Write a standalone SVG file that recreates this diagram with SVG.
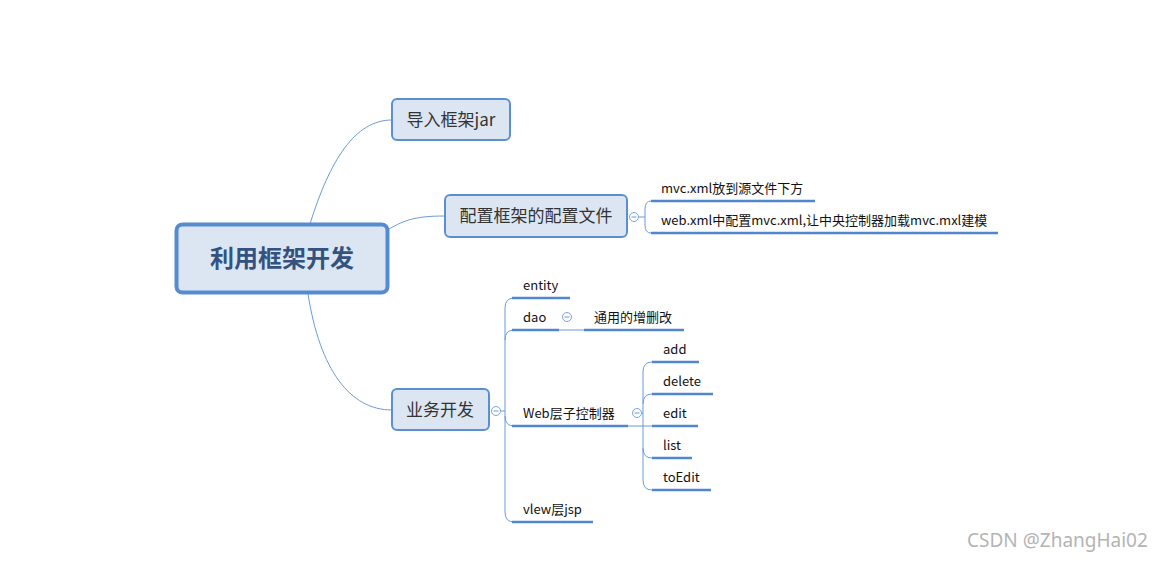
<svg xmlns="http://www.w3.org/2000/svg" width="1161" height="561" viewBox="0 0 1161 561">
<style>
.bg{fill:#ffffff}
.box{fill:#dce6f2;stroke:#5b8fd2;stroke-width:2}
.root{fill:#dce6f2;stroke:#558bd1;stroke-width:4}
.bt{font-family:"Noto Sans CJK SC","Microsoft YaHei",sans-serif;font-size:17px;fill:#333333;text-anchor:middle}
.rt{font-family:"Noto Sans CJK SC","Microsoft YaHei",sans-serif;font-size:24px;font-weight:bold;fill:#34527f;text-anchor:middle}
.st{font-family:"Noto Sans CJK SC","Microsoft YaHei",sans-serif;font-size:13px;fill:#111111}
.ln{fill:none;stroke:#6a9bd8;stroke-width:1}
.ul{fill:none;stroke:#4f86d0;stroke-width:2.5}
.cc{fill:#ffffff;stroke:#7aa5dc;stroke-width:1}
.wm{font-family:"Noto Sans","Open Sans",sans-serif;font-size:19px;fill:#b4b4b4}
</style>
<rect class="bg" x="0" y="0" width="1161" height="561"/>
<g id="connectors">
<path class="ln" d="M310,224 C330,160 355,120 392,120"/>
<path class="ln" d="M389,229 C405,220 415,216 445,216"/>
<path class="ln" d="M308,294 C320,370 350,410 392,410"/>
<path class="ln" d="M639,217 L645,217"/>
<path class="ln" d="M651,201 Q645,201 645,209 L645,225 Q645,233 651,233"/>
<path class="ln" d="M501,411 L505,411"/>
<path class="ln" d="M514,298 Q505,298 505,308 L505,512 Q505,522 514,522"/>
<path class="ln" d="M514,330 Q505,330 505,340"/>
<path class="ln" d="M514,426 Q505,426 505,416"/>
<path class="ln" d="M559,330 L584,330"/>
<path class="ln" d="M628,426 L652,426"/>
<path class="ln" d="M642,413 L643,413"/>
<path class="ln" d="M652,362 Q643,362 643,372 L643,480 Q643,490 652,490"/>
<path class="ln" d="M652,394 Q643,394 643,404"/>
<path class="ln" d="M652,458 Q643,458 643,448"/>
</g>
<g id="root">
<rect class="root" x="176.5" y="224.5" width="211" height="68" rx="6"/>
<text class="rt" x="282" y="267">利用框架开发</text>
</g>
<g id="n-import">
<rect class="box" x="392" y="99" width="118" height="41" rx="5"/>
<text class="bt" x="451" y="126">导入框架jar</text>
</g>
<g id="n-config">
<rect class="box" x="445" y="195" width="182" height="42" rx="5"/>
<text class="bt" x="536" y="222">配置框架的配置文件</text>
<circle class="cc" cx="634" cy="217" r="4.5"/>
<path class="ln" d="M631.5,217 L636.5,217"/>
</g>
<g id="n-mvc">
<text class="st" x="661" y="193">mvc.xml放到源文件下方</text>
<path class="ul" d="M651,201 L815,201"/>
</g>
<g id="n-web">
<text class="st" x="661" y="225">web.xml中配置mvc.xml,让中央控制器加载mvc.mxl建模</text>
<path class="ul" d="M651,233 L998,233"/>
</g>
<g id="n-biz">
<rect class="box" x="392" y="389" width="97" height="41" rx="5"/>
<text class="bt" x="440" y="416">业务开发</text>
<circle class="cc" cx="496" cy="411" r="4.5"/>
<path class="ln" d="M493.5,411 L498.5,411"/>
</g>
<g id="n-entity">
<text class="st" x="523" y="290">entity</text>
<path class="ul" d="M512,298 L570,298"/>
</g>
<g id="n-dao">
<text class="st" x="523" y="322">dao</text>
<path class="ul" d="M512,330 L559,330"/>
<circle class="cc" cx="567" cy="317" r="4.5"/>
<path class="ln" d="M564.5,317 L569.5,317"/>
</g>
<g id="n-crud">
<text class="st" x="594" y="322">通用的增删改</text>
<path class="ul" d="M584,330 L684,330"/>
</g>
<g id="n-ctrl">
<text class="st" x="523" y="418">Web层子控制器</text>
<path class="ul" d="M512,426 L628,426"/>
<circle class="cc" cx="637" cy="413" r="4.5"/>
<path class="ln" d="M634.5,413 L639.5,413"/>
</g>
<g id="n-add">
<text class="st" x="663" y="354">add</text>
<path class="ul" d="M652,362 L699,362"/>
</g>
<g id="n-delete">
<text class="st" x="663" y="386">delete</text>
<path class="ul" d="M652,394 L713,394"/>
</g>
<g id="n-edit">
<text class="st" x="663" y="418">edit</text>
<path class="ul" d="M652,426 L698,426"/>
</g>
<g id="n-list">
<text class="st" x="663" y="450">list</text>
<path class="ul" d="M652,458 L692,458"/>
</g>
<g id="n-toedit">
<text class="st" x="663" y="482">toEdit</text>
<path class="ul" d="M652,490 L711,490"/>
</g>
<g id="n-view">
<text class="st" x="523" y="514">vlew层jsp</text>
<path class="ul" d="M512,522 L593,522"/>
</g>
<text class="wm" x="967" y="547">CSDN @ZhangHai02</text>
</svg>
